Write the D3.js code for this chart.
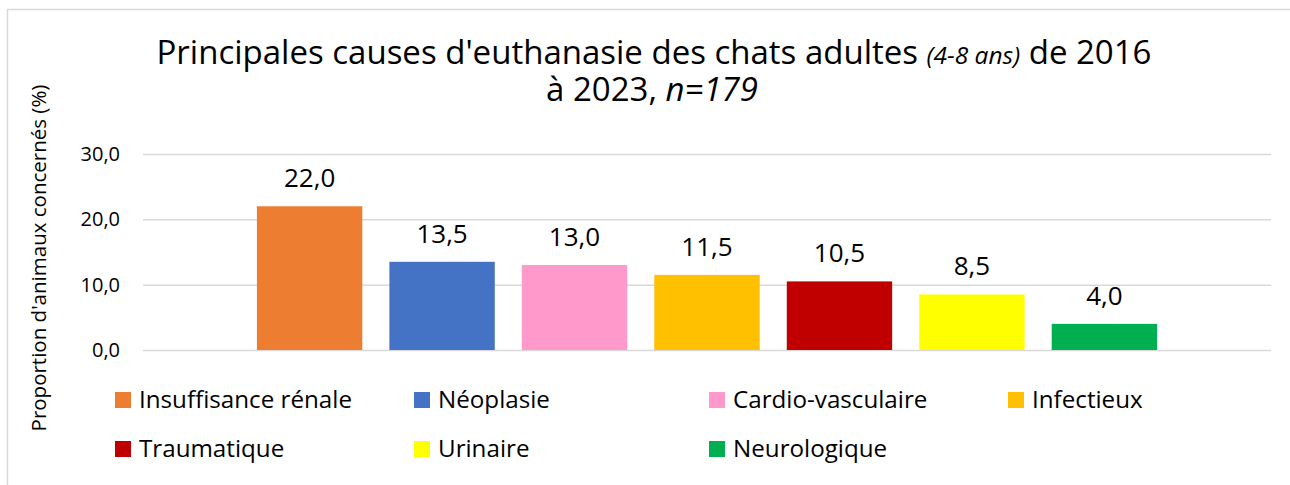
<!DOCTYPE html>
<html>
<head>
<meta charset="utf-8">
<script src="https://cdn.jsdelivr.net/npm/d3@7"></script>
<style>
  body { margin: 0; background: #fff; }
  text { font-family: "Open Sans", sans-serif; fill: #000; }
</style>
</head>
<body>
<div id="chart"></div>
<script>
const categories = ['Insuffisance rénale', 'Néoplasie', 'Cardio-vasculaire', 'Infectieux',
                    'Traumatique', 'Urinaire', 'Neurologique'];
const values = [22.0, 13.5, 13.0, 11.5, 10.5, 8.5, 4.0];
const colors = ['#ED7D31', '#4472C4', '#FF99CC', '#FFC000', '#C00000', '#FFFF00', '#00B050'];
const yTicks = [0, 10, 20, 30];
const yLabel = "Proportion d'animaux concernés (%)";

const width = 1290;
const height = 485;
const fmt = d => d3.format('.1f')(d).replace('.', ',');

const svg = d3.select('#chart').append('svg')
  .attr('width', width)
  .attr('height', height);

// chart frame (only top and left edges show)
svg.append('path')
  .attr('d', `M7.5,${height} V9.5 H${width}`)
  .attr('fill', 'none')
  .attr('stroke', '#d9d9d9')
  .attr('stroke-width', 1.5);

const xScale = d3.scaleBand()
  .domain(categories)
  .range([143, 1271])
  .paddingInner(0.2045)
  .paddingOuter(0.86);

const yScale = d3.scaleLinear()
  .domain([0, 30])
  .range([350, 154]);

// title
const t1 = svg.append('text')
  .attr('x', 654).attr('y', 64)
  .attr('text-anchor', 'middle')
  .style('font-size', '33px');
t1.append('tspan').text("Principales causes d'euthanasie des chats adultes ");
t1.append('tspan').style('font-style', 'italic').style('font-size', '24.5px').text('(4-8 ans)');
t1.append('tspan').text(' de 2016');
const t2 = svg.append('text')
  .attr('x', 652).attr('y', 101)
  .attr('text-anchor', 'middle')
  .style('font-size', '33px');
t2.append('tspan').text('à 2023, ');
t2.append('tspan').style('font-style', 'italic').text('n=179');

// grid
svg.append('g')
  .attr('transform', 'translate(143,0)')
  .call(d3.axisLeft(yScale).tickValues(yTicks).tickSize(-1128).tickFormat(''))
  .call(g => g.select('.domain').remove())
  .call(g => g.selectAll('line').attr('stroke', '#d9d9d9').attr('stroke-width', 1.5));

// y axis labels
svg.append('g')
  .attr('transform', 'translate(143,0)')
  .call(d3.axisLeft(yScale).tickValues(yTicks).tickSize(0).tickPadding(23).tickFormat(fmt))
  .call(g => g.select('.domain').remove())
  .call(g => g.selectAll('text')
    .style('font-family', '"Open Sans", sans-serif')
    .style('font-size', '20px')
    .attr('fill', '#000'));

svg.append('text')
  .attr('transform', 'translate(46,258) rotate(-90)')
  .attr('text-anchor', 'middle')
  .style('font-size', '20.5px')
  .text(yLabel);

// bars
svg.selectAll('rect.bar').data(values)
  .enter().append('rect')
  .attr('class', 'bar')
  .attr('x', (d, i) => xScale(categories[i]))
  .attr('y', d => yScale(d))
  .attr('width', xScale.bandwidth())
  .attr('height', d => yScale(0) - yScale(d))
  .attr('fill', (d, i) => colors[i]);

svg.selectAll('text.val').data(values)
  .enter().append('text')
  .attr('class', 'val')
  .attr('x', (d, i) => xScale(categories[i]) + xScale.bandwidth() / 2)
  .attr('y', d => yScale(d) - 19)
  .attr('text-anchor', 'middle')
  .style('font-size', '26px')
  .text(fmt);

// legend: 4 columns, 2 rows
const legCols = [115, 414, 709, 1008];
const legRows = [400, 449];
const legend = svg.selectAll('g.leg').data(categories)
  .enter().append('g')
  .attr('class', 'leg')
  .attr('transform', (d, i) => `translate(${legCols[i % 4]},${legRows[Math.floor(i / 4)]})`);

legend.append('rect')
  .attr('x', 0)
  .attr('y', -8)
  .attr('width', 16)
  .attr('height', 16)
  .attr('fill', (d, i) => colors[i]);

legend.append('text')
  .attr('x', 24)
  .attr('y', 7.5)
  .style('font-size', '24.2px')
  .text(d => d);
</script>
</body>
</html>
